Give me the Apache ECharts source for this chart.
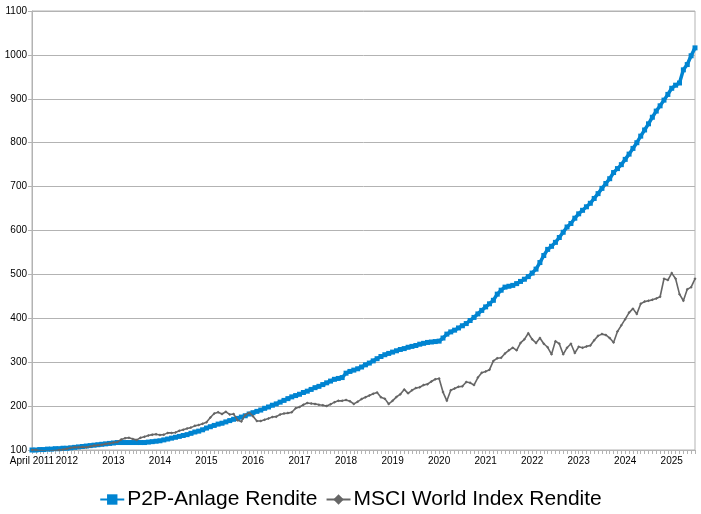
<!DOCTYPE html>
<html>
<head>
<meta charset="utf-8">
<script src="https://cdn.jsdelivr.net/npm/echarts@6/dist/echarts.min.js"></script>
<style>
html,body{margin:0;padding:0;background:#fff;}
#chart{width:701px;height:514px;}
</style>
</head>
<body>
<div id="chart"></div>
<script>
// Monthly categories: April 2011 .. July 2025
const startYear = 2011, startMonth = 4, monthCount = 172;
const months = [];
for (let i = 0; i < monthCount; i++) {
  const m = (startMonth - 1 + i) % 12 + 1;
  const y = startYear + Math.floor((startMonth - 1 + i) / 12);
  months.push(y + '-' + (m < 10 ? '0' + m : m));
}
const firstLabel = 'April 2011';

const seriesNames = ['P2P-Anlage Rendite', 'MSCI World Index Rendite'];

const p2p = [
  100,100,101,101,102,102,103,103,104,104,
  105,106,107,108,109,110,111,112,113,114,
  115,116,117,117,117,117,117,117,117,117,
  118,119,120,121,123,125,127,129,131,133,
  135,138,141,143,146,150,153,156,159,161,
  164,167,170,172,175,178,182,185,188,191,
  195,198,202,205,209,213,217,221,224,227,
  231,234,238,242,245,249,253,257,261,263,
  265,275,279,282,285,289,294,298,303,308,
  313,317,320,323,326,329,331,334,336,338,
  341,343,345,346,347,348,355,364,369,373,
  378,383,388,395,402,410,418,426,433,441,
  455,464,471,473,475,479,484,489,495,503,
  512,527,543,557,564,573,584,596,608,616,
  628,638,646,654,662,673,684,696,707,718,
  732,741,750,762,774,787,800,815,829,843,
  858,872,884,897,910,924,931,936,966,978,
  998,1016
];

const msci = [
  100,100,99,98,97,98,99,100,101,103,
  105,106,106,107,106,108,110,111,112,114,
  115,117,118,124,127,128,125,123,128,130,
  133,135,136,134,135,139,139,140,144,146,
  149,151,155,157,160,163,174,183,186,182,
  187,181,182,168,165,180,185,177,166,166,
  169,172,175,176,181,183,184,186,195,198,
  203,207,206,205,203,202,200,204,209,212,
  212,214,211,205,210,216,220,224,228,231,
  220,217,205,212,221,227,238,229,236,241,
  243,248,250,256,261,263,232,212,236,240,
  244,245,255,253,248,265,276,279,283,303,
  309,310,320,327,333,327,344,352,366,352,
  344,355,342,334,318,348,342,318,333,342,
  321,335,333,336,338,350,360,364,362,355,
  345,370,384,398,413,422,410,433,438,440,
  442,445,449,490,487,503,490,455,440,466,
  471,490
];

const yMin = 100, yMax = 1100, yStep = 100;

const chart = echarts.init(document.getElementById('chart'), null, {renderer: 'canvas'});
chart.setOption({
  animation: false,
  backgroundColor: '#ffffff',
  grid: {left: 32, right: 6, top: 11, bottom: 64, show: true, borderColor: '#b3b3b3', borderWidth: 1, backgroundColor: 'transparent'},
  legend: {
    bottom: -1,
    left: 'center',
    itemWidth: 24,
    itemHeight: 13,
    itemGap: 8,
    textStyle: {fontFamily: 'Liberation Sans', fontSize: 21, color: '#000', padding: [0, 0, 0, -2]},
    data: seriesNames
  },
  xAxis: {
    type: 'category',
    data: months,
    boundaryGap: false,
    axisLine: {lineStyle: {color: '#b3b3b3', width: 1}},
    axisTick: {show: true, interval: 0, length: 4, inside: false, lineStyle: {color: '#b3b3b3'}},
    splitLine: {show: false},
    axisLabel: {
      interval: 0,
      margin: 6,
      color: '#000',
      fontFamily: 'Liberation Sans',
      fontSize: 10,
      formatter: function (v, idx) {
        if (idx === 0) return firstLabel;
        if (v.slice(5) === '01') return v.slice(0, 4);
        return '';
      }
    }
  },
  yAxis: {
    type: 'value',
    min: yMin,
    max: yMax,
    interval: yStep,
    axisLine: {show: true, lineStyle: {color: '#b3b3b3', width: 1}},
    axisTick: {show: true, length: 4, lineStyle: {color: '#b3b3b3'}},
    splitLine: {show: true, lineStyle: {color: '#b3b3b3', width: 1}},
    axisLabel: {color: '#000', fontFamily: 'Liberation Sans', fontSize: 10, margin: 5,
      formatter: function (v) { return String(v); }}
  },
  series: [
    {
      name: seriesNames[0],
      type: 'line',
      data: p2p,
      color: '#0084d1',
      symbol: 'rect',
      symbolSize: 5,
      showSymbol: true,
      lineStyle: {width: 3.5, color: '#0084d1'},
      itemStyle: {color: '#0084d1'},
      z: 3
    },
    {
      name: seriesNames[1],
      type: 'line',
      data: msci,
      color: '#666666',
      symbol: 'diamond',
      symbolSize: 3,
      showSymbol: true,
      lineStyle: {width: 1.6, color: '#666666'},
      itemStyle: {color: '#666666'},
      z: 4
    }
  ]
});
</script>
</body>
</html>
